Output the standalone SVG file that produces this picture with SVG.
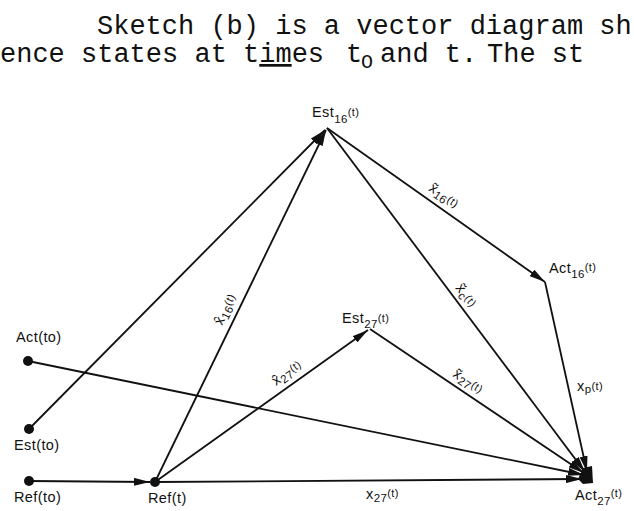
<svg xmlns="http://www.w3.org/2000/svg" width="634" height="511" viewBox="0 0 634 511">
<style>
.hdr{font-family:"Liberation Mono","Courier New",monospace;font-size:27px;fill:#111;white-space:pre}
.lbl{font-family:"Liberation Sans",Arial,sans-serif;font-size:14.5px;letter-spacing:0.4px;fill:#111}
.sub{font-size:11.5px}
.sm{font-size:11px}
.ln{stroke:#111;stroke-width:1.8;fill:none}
.dot{fill:#111}
</style>
<defs>
<marker id="ah" viewBox="0 0 16 8" refX="16" refY="4" markerWidth="16" markerHeight="8" markerUnits="userSpaceOnUse" orient="auto">
<path d="M0,0 L16,4 L0,8 Z" fill="#111"/>
</marker>
</defs>
<rect width="634" height="511" fill="#fff"/>
<g id="header">
<text class="hdr" x="97" y="34">Sketch (b) is a vector diagram sh</text>
<text class="hdr" x="0" y="62">ence states at t<tspan text-decoration="underline">im</tspan>es</text>
<text class="hdr" x="346" y="62">t</text>
<text class="hdr" x="361" y="68" style="font-size:20px">O</text>
<text class="hdr" x="380" y="62">and t.</text>
<text class="hdr" x="487" y="62">The st</text>
</g>
<g id="connectors">
<line class="ln" x1="29" y1="429" x2="325" y2="130" marker-end="url(#ah)"/>
<line class="ln" x1="155" y1="482" x2="326" y2="130" marker-end="url(#ah)"/>
<line class="ln" x1="155" y1="482" x2="368" y2="330" marker-end="url(#ah)"/>
<line class="ln" x1="29" y1="481" x2="150" y2="482" marker-end="url(#ah)"/>
<line class="ln" x1="327" y1="128" x2="545" y2="282" marker-end="url(#ah)"/>
<line class="ln" x1="327" y1="128" x2="585" y2="472" marker-end="url(#ah)"/>
<line class="ln" x1="370" y1="329" x2="584" y2="473" marker-end="url(#ah)"/>
<line class="ln" x1="545" y1="282" x2="587" y2="472" marker-end="url(#ah)"/>
<line class="ln" x1="28" y1="361" x2="584" y2="475" marker-end="url(#ah)"/>
<line class="ln" x1="155" y1="482" x2="582" y2="479" marker-end="url(#ah)"/>
<text class="lbl" transform="translate(222,326) rotate(-64)">x̂<tspan class="sub" dy="3">16</tspan><tspan class="sm" dy="-4">(t)</tspan></text>
<text class="lbl" transform="translate(276,386) rotate(-35.5)">x̂<tspan class="sub" dy="3">27</tspan><tspan class="sm" dy="-4">(t)</tspan></text>
<text class="lbl" transform="translate(428,190) rotate(35.2)">x̃<tspan class="sub" dy="3">16</tspan><tspan class="sm" dy="-4">(t)</tspan></text>
<text class="lbl" transform="translate(455,288) rotate(53)">x̃<tspan class="sub" dy="3">c</tspan><tspan class="sm" dy="-4">(t)</tspan></text>
<text class="lbl" transform="translate(452,376) rotate(33.7)">x̃<tspan class="sub" dy="3">27</tspan><tspan class="sm" dy="-4">(t)</tspan></text>
<text class="lbl" x="577" y="391">x<tspan class="sub" dy="2">p</tspan><tspan class="sm" dy="-3">(t)</tspan></text>
<text class="lbl" x="366" y="499">x<tspan class="sub" dy="3">27</tspan><tspan class="sm" dy="-5">(t)</tspan></text>
</g>
<g id="est16">
<text class="lbl" x="312" y="117">Est<tspan class="sub" dy="6">16</tspan><tspan class="sm" dy="-7">(t)</tspan></text>
</g>
<g id="act16">
<text class="lbl" x="549" y="273">Act<tspan class="sub" dy="5">16</tspan><tspan class="sm" dy="-7">(t)</tspan></text>
</g>
<g id="est27">
<text class="lbl" x="342" y="323">Est<tspan class="sub" dy="5">27</tspan><tspan class="sm" dy="-6">(t)</tspan></text>
</g>
<g id="act_to">
<circle class="dot" cx="28" cy="361" r="5"/>
<text class="lbl" x="16" y="342">Act(to)</text>
</g>
<g id="est_to">
<circle class="dot" cx="29" cy="429" r="5"/>
<text class="lbl" x="14" y="450">Est(to)</text>
</g>
<g id="ref_to">
<circle class="dot" cx="29" cy="481" r="5"/>
<text class="lbl" x="14" y="502">Ref(to)</text>
</g>
<g id="ref_t">
<circle class="dot" cx="155" cy="482" r="5"/>
<text class="lbl" x="148" y="503">Ref(t)</text>
</g>
<g id="act27">
<polygon class="dot" points="578,479 583,468 592,466 593,483 583,484"/>
<text class="lbl" x="575" y="500">Act<tspan class="sub" dy="5">27</tspan><tspan class="sm" dy="-8">(t)</tspan></text>
</g>
</svg>
